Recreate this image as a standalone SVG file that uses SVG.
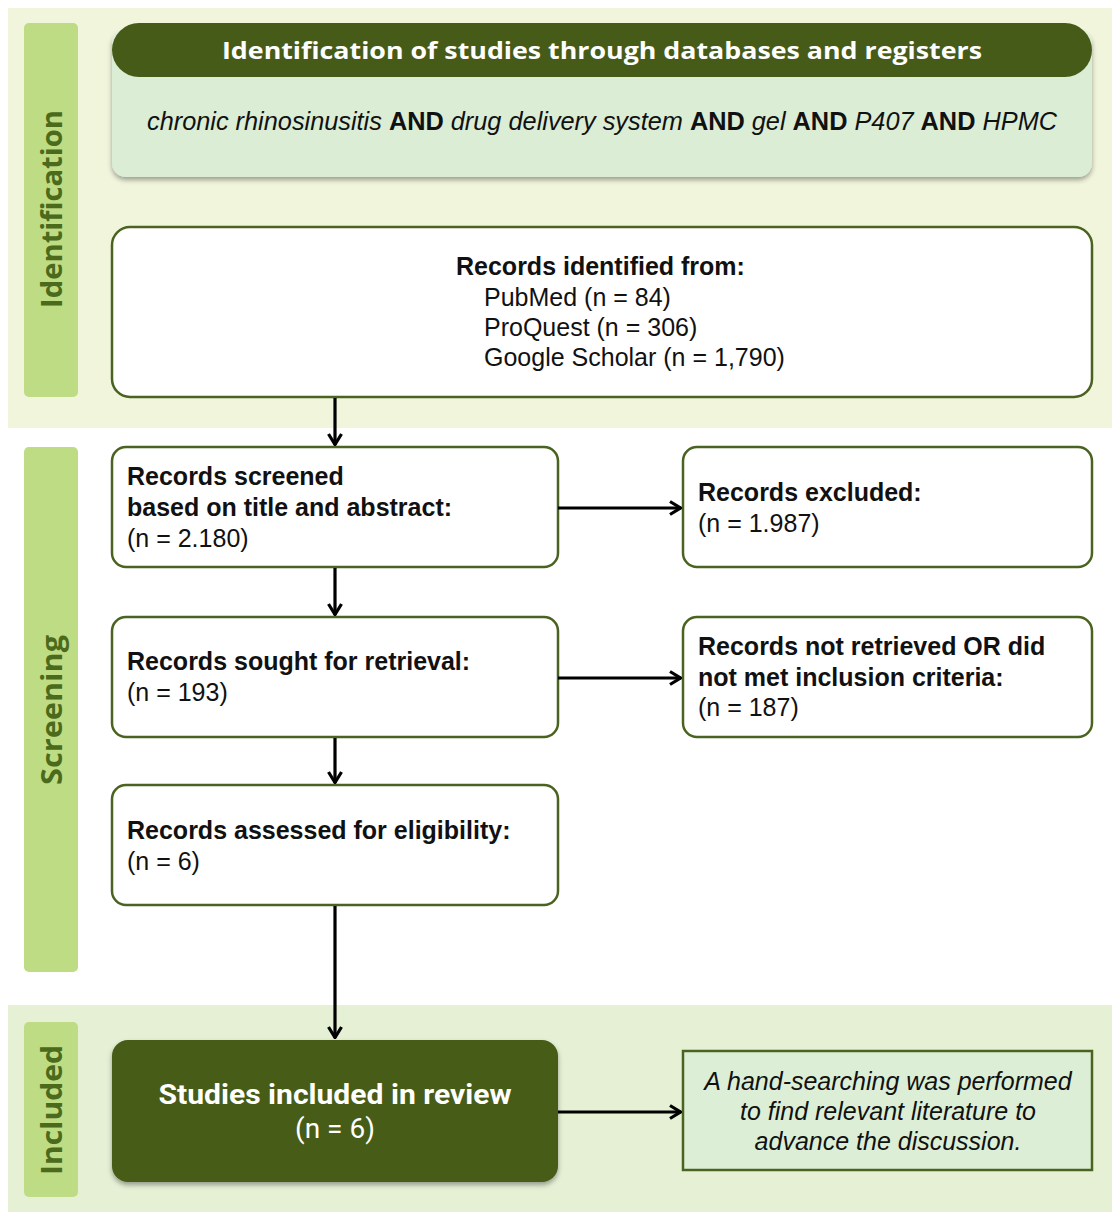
<svg xmlns="http://www.w3.org/2000/svg" width="1112" height="1212" viewBox="0 0 1112 1212">
<defs>
<style>
.lab{fill:#bedc84}
.labt{font-family:"Open Sans","DejaVu Sans",sans-serif;font-weight:700;font-size:28px;fill:#4b6a1c}
.box{fill:#fff;stroke:#4a6320;stroke-width:2.5}
.t{font-family:"Liberation Sans",Arial,sans-serif;font-size:25px;fill:#111}
.b{font-weight:700}
.i{font-style:italic}
.con{stroke:#000;stroke-width:3.2;fill:none;marker-end:url(#ah)}
</style>
<marker id="ah" viewBox="0 0 14 16" refX="13" refY="8" markerWidth="14" markerHeight="16" markerUnits="userSpaceOnUse" orient="auto">
<path d="M2,1.5 L12.5,8 L2,14.5" fill="none" stroke="#000" stroke-width="3.2" stroke-linejoin="miter"/>
</marker>
<filter id="sh" x="-5%" y="-5%" width="110%" height="115%">
<feDropShadow dx="0" dy="3" stdDeviation="2.5" flood-color="#000" flood-opacity="0.35"/>
</filter>
</defs>
<rect x="0" y="0" width="1112" height="1212" fill="#fff"/>
<rect x="8" y="8" width="1104" height="420" fill="#f1f5dc"/>
<rect x="8" y="1005" width="1104" height="207" fill="#e5f0d5"/>

<g id="label-identification">
<rect class="lab" x="24" y="23" width="54" height="374" rx="5"/>
<text class="labt" transform="translate(62,209) rotate(-90)" text-anchor="middle" textLength="198" lengthAdjust="spacingAndGlyphs">Identification</text>
</g>
<g id="label-screening">
<rect class="lab" x="24" y="447" width="54" height="525" rx="5"/>
<text class="labt" transform="translate(62,710) rotate(-90)" text-anchor="middle" textLength="150" lengthAdjust="spacingAndGlyphs">Screening</text>
</g>
<g id="label-included">
<rect class="lab" x="24" y="1022" width="54" height="175" rx="5"/>
<text class="labt" transform="translate(62,1110) rotate(-90)" text-anchor="middle" textLength="130" lengthAdjust="spacingAndGlyphs">Included</text>
</g>

<g id="header">
<rect x="112" y="30" width="980" height="147" rx="14" fill="#dbedd5" filter="url(#sh)"/>
<rect x="112" y="23" width="980" height="54" rx="27" fill="#475b19"/>
<text x="602" y="59" text-anchor="middle" font-family="'Open Sans','DejaVu Sans',sans-serif" font-weight="700" font-size="24" fill="#fff" textLength="760" lengthAdjust="spacingAndGlyphs">Identification of studies through databases and registers</text>
<text class="t" x="602" y="130" text-anchor="middle" textLength="910" lengthAdjust="spacingAndGlyphs"><tspan class="i">chronic rhinosinusitis </tspan><tspan class="b">AND</tspan><tspan class="i"> drug delivery system </tspan><tspan class="b">AND</tspan><tspan class="i"> gel </tspan><tspan class="b">AND</tspan><tspan class="i"> P407 </tspan><tspan class="b">AND</tspan><tspan class="i"> HPMC</tspan></text>
</g>

<g id="records-identified">
<rect class="box" x="112" y="227" width="980" height="170" rx="18"/>
<text class="t b" x="456" y="275">Records identified from:</text>
<text class="t" x="484" y="306">PubMed (n = 84)</text>
<text class="t" x="484" y="336">ProQuest (n = 306)</text>
<text class="t" x="484" y="366">Google Scholar (n = 1,790)</text>
</g>

<g id="records-screened">
<rect class="box" x="112" y="447" width="446" height="120" rx="14"/>
<text class="t b" x="127" y="485">Records screened</text>
<text class="t b" x="127" y="516">based on title and abstract:</text>
<text class="t" x="127" y="547">(n = 2.180)</text>
</g>

<g id="records-excluded">
<rect class="box" x="683" y="447" width="409" height="120" rx="14"/>
<text class="t b" x="698" y="501">Records excluded:</text>
<text class="t" x="698" y="532">(n = 1.987)</text>
</g>

<g id="records-sought">
<rect class="box" x="112" y="617" width="446" height="120" rx="14"/>
<text class="t b" x="127" y="670">Records sought for retrieval:</text>
<text class="t" x="127" y="701">(n = 193)</text>
</g>

<g id="records-not-retrieved">
<rect class="box" x="683" y="617" width="409" height="120" rx="14"/>
<text class="t b" x="698" y="655">Records not retrieved OR did</text>
<text class="t b" x="698" y="686">not met inclusion criteria:</text>
<text class="t" x="698" y="716">(n = 187)</text>
</g>

<g id="records-assessed">
<rect class="box" x="112" y="785" width="446" height="120" rx="14"/>
<text class="t b" x="127" y="839">Records assessed for eligibility:</text>
<text class="t" x="127" y="870">(n = 6)</text>
</g>

<g id="studies-included">
<rect x="112" y="1040" width="446" height="142" rx="16" fill="#475b19" filter="url(#sh)"/>
<text x="335" y="1104" text-anchor="middle" font-family="Roboto,'Liberation Sans',sans-serif" font-weight="700" font-size="28" fill="#fff" textLength="353" lengthAdjust="spacingAndGlyphs">Studies included in review</text>
<text x="335" y="1138" text-anchor="middle" font-family="Roboto,'Liberation Sans',sans-serif" font-size="28" fill="#fff">(n = 6)</text>
</g>

<g id="hand-search">
<rect x="683" y="1051" width="409" height="119" fill="#dcefd6" stroke="#4a6320" stroke-width="2.5"/>
<text class="t i" x="888" y="1090" text-anchor="middle">A hand-searching was performed</text>
<text class="t i" x="888" y="1120" text-anchor="middle">to find relevant literature to</text>
<text class="t i" x="888" y="1150" text-anchor="middle">advance the discussion.</text>
</g>

<g id="connectors">
<line class="con" x1="335" y1="398" x2="335" y2="445"/>
<line class="con" x1="558" y1="508" x2="681" y2="508"/>
<line class="con" x1="335" y1="568" x2="335" y2="615"/>
<line class="con" x1="558" y1="678" x2="681" y2="678"/>
<line class="con" x1="335" y1="738" x2="335" y2="783"/>
<line class="con" x1="335" y1="906" x2="335" y2="1038"/>
<line class="con" x1="558" y1="1112" x2="681" y2="1112"/>
</g>
</svg>
